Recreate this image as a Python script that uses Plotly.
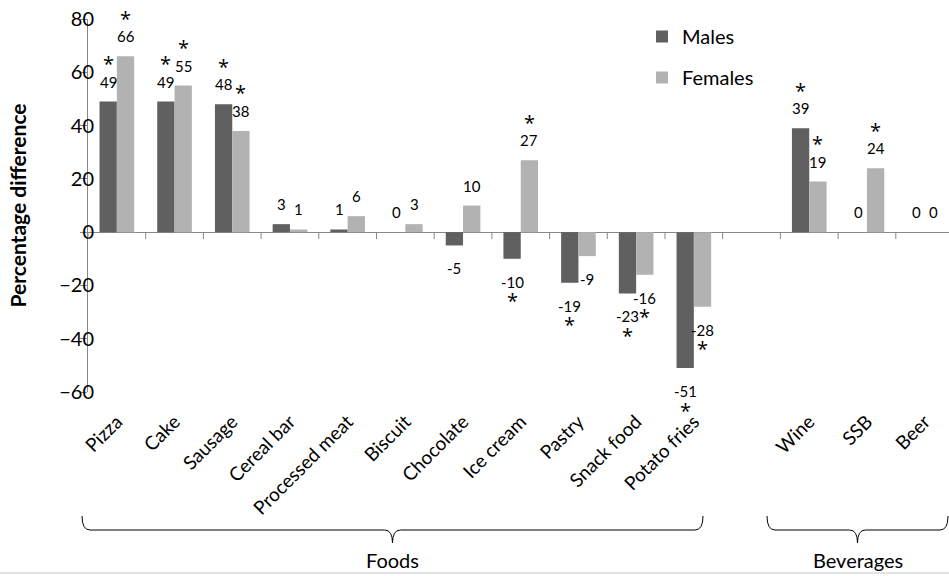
import plotly.graph_objects as go

# ---------------- data ----------------
categories = ["Pizza", "Cake", "Sausage", "Cereal bar", "Processed meat", "Biscuit",
              "Chocolate", "Ice cream", "Pastry", "Snack food", "Potato fries", " ",
              "Wine", "SSB", "Beer"]
males = [49, 49, 48, 3, 1, 0, -5, -10, -19, -23, -51, None, 39, 0, 0]
females = [66, 55, 38, 1, 6, 3, 10, 27, -9, -16, -28, None, 19, 24, 0]
males_sig = [1, 1, 1, 0, 0, 0, 0, 1, 1, 1, 1, 0, 1, 0, 0]
females_sig = [1, 1, 1, 0, 0, 0, 0, 1, 0, 1, 1, 0, 1, 1, 0]
y_ticks = [-60, -40, -20, 0, 20, 40, 60, 80]
group_names = ["Foods", "Beverages"]
y_title = "Percentage difference"

# ---------------- layout constants ----------------
W, H = 949, 576
ML, MR, MT, MB = 88, 0, 19, 184
PW, PH = W - ML - MR, H - MT - MB
CAT_PX = 57.7
XR = [-0.5, -0.5 + PW / CAT_PX]
YR = [-60, 80]
FONT = "Lato, 'Open Sans', sans-serif"
MALE_C = "#606060"
FEMALE_C = "#b2b2b2"
AXIS_C = "#888888"
# brace extents in page pixels (left, right)
BRACES_PX = [(82, 703), (767, 948)]

fig = go.Figure()
fig.add_trace(go.Bar(x=categories, y=males, name="Males", marker_color=MALE_C,
                     marker_line_width=0, legendgroup="m"))
fig.add_trace(go.Bar(x=categories, y=females, name="Females", marker_color=FEMALE_C,
                     marker_line_width=0, legendgroup="f"))

annotations = []
for vals, sig, off in ((males, males_sig, -0.15), (females, females_sig, 0.15)):
    for i, v in enumerate(vals):
        if v is None:
            continue
        pos = v >= 0
        lab_shift = 20 if pos else -23
        annotations.append(dict(x=i + off, y=v, xref="x", yref="y", text=str(v),
                                showarrow=False, yanchor="middle", yshift=lab_shift,
                                borderpad=0,
                                font=dict(family=FONT, size=15, color="#000")))
        if sig[i]:
            star_shift = lab_shift + 18 if pos else lab_shift - 19
            annotations.append(dict(x=i + off, y=v, xref="x", yref="y", text="*",
                                    showarrow=False, yanchor="middle", yshift=star_shift,
                                    borderpad=0,
                                    font=dict(family="'Open Sans', sans-serif", size=20,
                                              color="#000")))

def xpx(px):
    return (px - ML) / PW

def ypx(py):
    return (MT + PH - py) / PH

# y-axis title
annotations.append(dict(x=xpx(17), y=0.5, xref="paper", yref="paper",
                        text="<b>" + y_title + "</b>", textangle=-90, showarrow=False,
                        xanchor="center", yanchor="middle",
                        font=dict(family=FONT, size=21, color="#000")))

shapes = []
# tick marks on the zero line at category boundaries
for b in range(len(categories) + 1):
    shapes.append(dict(type="line", xref="x", yref="y", x0=b - 0.5, x1=b - 0.5,
                       ysizemode="pixel", yanchor=0, y0=0, y1=-7,
                       line=dict(color=AXIS_C, width=1)))

# braces under category groups
for name, (lpx, rpx) in zip(group_names, BRACES_PX):
    L, R = xpx(lpx), xpx(rpx)
    T = (L + R) / 2
    yt, yl, yb = ypx(516), ypx(530), ypx(543)
    dx = 8 / PW
    path = (f"M {L},{yt} Q {L},{yl} {L+dx},{yl} L {T-dx},{yl} Q {T},{yl} {T},{yb} "
            f"Q {T},{yl} {T+dx},{yl} L {R-dx},{yl} Q {R},{yl} {R},{yt}")
    shapes.append(dict(type="path", xref="paper", yref="paper", path=path,
                       line=dict(color="#000", width=1)))
    annotations.append(dict(x=T, y=ypx(560), xref="paper", yref="paper", text=name,
                            showarrow=False, xanchor="center", yanchor="middle",
                            font=dict(family=FONT, size=20, color="#000")))

# faint bottom border line
shapes.append(dict(type="line", xref="paper", yref="paper", x0=-ML / PW, x1=1,
                   y0=ypx(573), y1=ypx(573), line=dict(color="#e4e4e4", width=2)))

fig.update_layout(
    width=W, height=H,
    margin=dict(l=ML, r=MR, t=MT, b=MB, autoexpand=False),
    paper_bgcolor="white", plot_bgcolor="white",
    barmode="group", bargap=0.4, bargroupgap=0,
    font=dict(family=FONT, color="#000"),
    showlegend=True,
    legend=dict(x=xpx(642), y=ypx(17), xanchor="left", yanchor="top",
                font=dict(family=FONT, size=20, color="#000"),
                traceorder="grouped", tracegroupgap=12, bgcolor="rgba(0,0,0,0)"),
    xaxis=dict(type="category", categoryorder="array", categoryarray=categories,
               range=XR, showline=False, showgrid=False, zeroline=False,
               ticks="", tickangle=-45, ticklabelstandoff=14,
               tickfont=dict(family=FONT, size=19, color="#000"),
               automargin=False),
    yaxis=dict(range=YR, tickvals=y_ticks, showline=True, linecolor=AXIS_C, linewidth=1,
               ticks="outside", ticklen=7, tickcolor=AXIS_C, showgrid=False,
               zeroline=True, zerolinecolor=AXIS_C, zerolinewidth=1,
               ticklabelstandoff=-18,
               tickfont=dict(family=FONT, size=20, color="#000"),
               automargin=False),
    annotations=annotations,
    shapes=shapes,
)

fig.write_html("out.html", config={"displayModeBar": False},
               post_script="document.body.style.margin='0';"
               "document.body.style.overflow='hidden';")
